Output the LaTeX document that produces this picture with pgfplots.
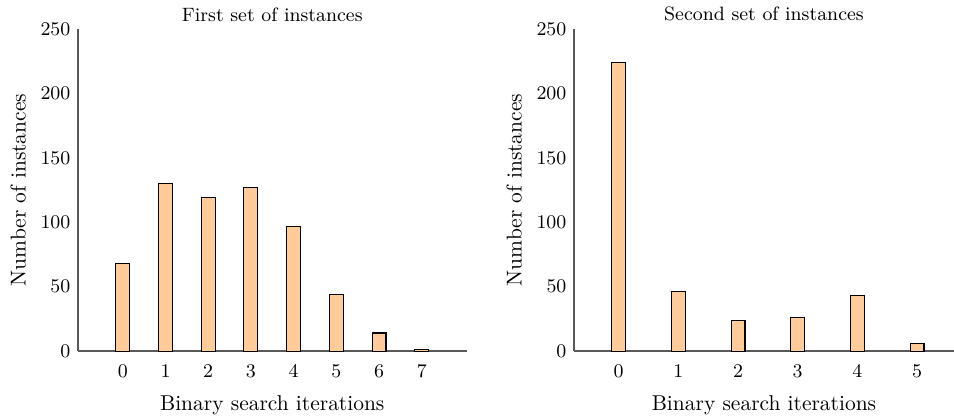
\documentclass[border=0pt]{standalone}
\usepackage{pgfplots}
\pgfplotsset{compat=1.18}
\definecolor{barfill}{HTML}{FFCC99}
\begin{document}
\begin{tikzpicture}
\useasboundingbox (-36.3pt,-31.7pt) rectangle (408pt,163.5pt);
\pgfplotsset{
  myax/.style={
    scale only axis,
    height=150pt,
    ymin=0, ymax=250,
    ytick={0,50,100,150,200,250},
    xtick=data,
    axis x line*=bottom,
    axis y line*=left,
    axis line style={-, black!65, line width=0.55pt},
    major tick length=0pt,
    ybar,
    bar width=6.5pt,
    xlabel={Binary search iterations},
    ylabel={Number of instances},
    tick label style={font=\small},
    xticklabel style={yshift=-3pt},
    xlabel style={yshift=-1.5pt},
    title style={font=\small, yshift=-6pt},
  }
}
\begin{axis}[myax, width=181pt, xmin=-1.05, xmax=8.05, title={First set of instances}]
\addplot[fill=barfill, draw=black, line width=0.5pt] coordinates {(0,68) (1,130) (2,119) (3,127) (4,97) (5,44) (6,14) (7,1)};
\end{axis}
\begin{axis}[myax, at={(231pt,0)}, width=177pt, xmin=-0.75, xmax=5.62, title={Second set of instances}]
\addplot[fill=barfill, draw=black, line width=0.5pt] coordinates {(0,224) (1,46) (2,24) (3,26) (4,43) (5,6)};
\end{axis}
\end{tikzpicture}
\end{document}
